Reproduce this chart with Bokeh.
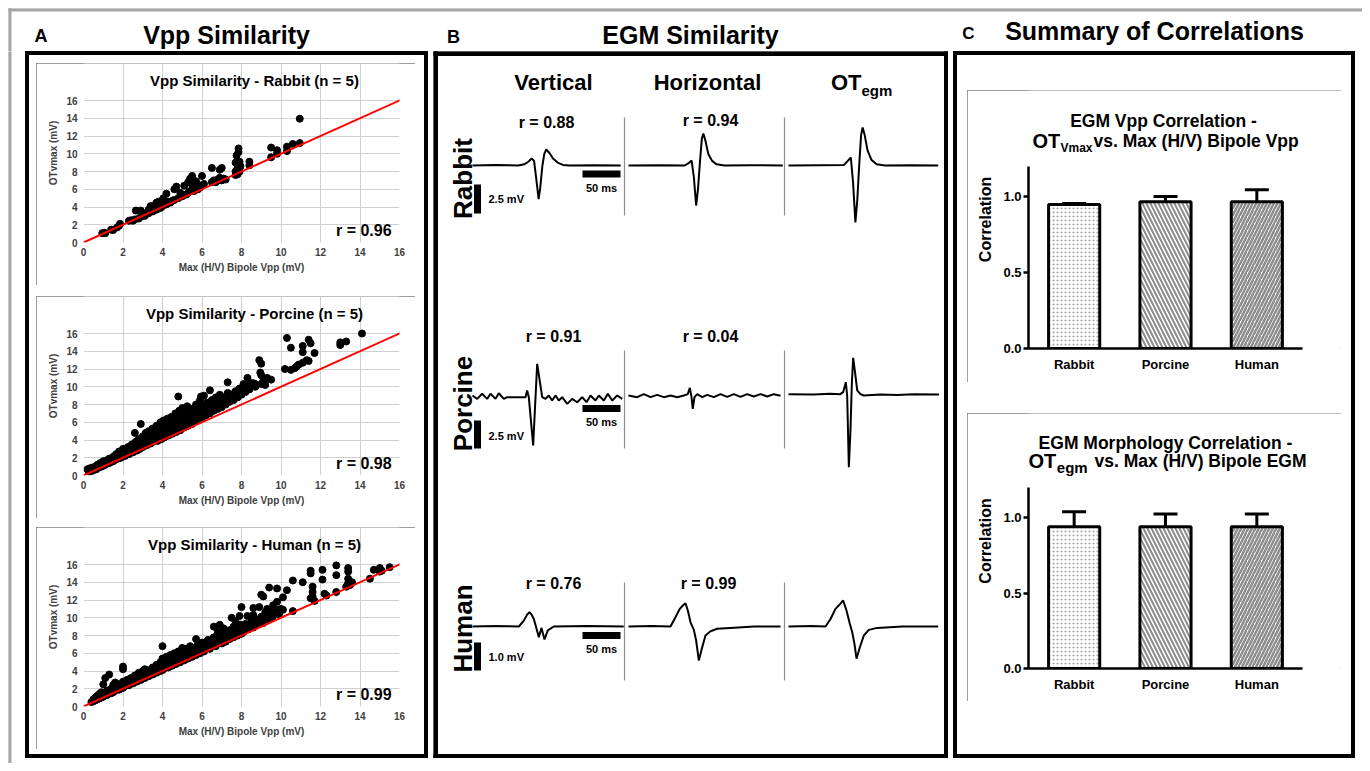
import numpy as np
from bokeh.plotting import figure
from bokeh.layouts import row, column
from bokeh.models import Range1d, FixedTicker, Whisker, TeeHead, ColumnDataSource, Slope, Spacer, NumeralTickFormatter
from bokeh.core.properties import value
from bokeh.embed import file_html
from bokeh.resources import INLINE

# ---------------------------------------------------------------- data
SPECIES = ["Rabbit", "Porcine", "Human"]
SCATTER_R = [0.96, 0.98, 0.99]
AXIS_TICKS = [0, 2, 4, 6, 8, 10, 12, 14, 16]

RABBIT_POINTS = [
    (0.95, 1.05), (1.05, 1.1), (1.1, 1.05), (1.4, 1.45), (1.5, 1.4), (1.7, 1.7), (1.8, 1.9), (1.85, 2.1),
    (2.3, 2.45), (2.4, 2.5), (2.5, 2.45), (2.6, 2.6), (2.65, 3.6), (2.8, 2.7), (2.9, 3.6), (2.9, 2.9),
    (3.0, 3.1), (3.1, 3.0), (3.15, 3.3), (3.3, 3.3), (3.3, 3.7), (3.4, 4.1), (3.5, 3.5), (3.5, 3.9),
    (3.6, 4.2), (3.7, 3.7), (3.7, 4.5), (3.8, 4.0), (3.8, 4.6), (3.9, 3.9), (3.9, 4.3), (4.0, 4.1),
    (4.0, 4.8), (4.05, 5.0), (4.1, 4.4), (4.2, 4.3), (4.2, 5.5), (4.3, 4.6), (4.4, 4.5), (4.5, 4.7),
    (4.6, 6.0), (4.6, 4.8), (4.7, 6.3), (4.8, 5.0), (4.9, 5.6), (5.0, 5.2), (5.1, 6.4), (5.2, 5.4),
    (5.3, 6.8), (5.3, 5.6), (5.4, 7.2), (5.4, 5.8), (5.5, 6.5), (5.5, 7.5), (5.6, 5.8), (5.6, 6.2),
    (5.7, 6.9), (5.8, 6.0), (5.8, 6.5), (5.9, 6.2), (6.0, 7.5), (6.1, 6.6), (6.5, 8.4), (6.5, 6.8),
    (6.6, 7.0), (6.7, 6.8), (6.8, 7.1), (6.9, 8.2), (6.9, 7.3), (7.0, 8.4), (7.0, 7.0), (7.1, 7.2),
    (7.2, 7.1), (7.7, 7.6), (7.7, 8.0), (7.7, 9.0), (7.75, 9.8), (7.8, 8.4), (7.8, 7.7), (7.85, 10.6),
    (7.85, 10.2), (7.9, 9.1), (7.9, 8.0), (7.95, 8.6), (8.4, 8.7), (8.4, 9.1), (9.5, 9.6), (9.5, 10.7),
    (9.8, 10.0), (9.8, 10.4), (10.3, 10.3), (10.3, 10.8), (10.6, 11.1), (10.95, 11.2), (10.95, 13.95),
]

PORCINE_POINTS = [
    (0.2, 0.7), (0.25, 0.5), (0.3, 0.8), (0.35, 0.6), (0.4, 0.5), (0.45, 0.9), (0.5, 0.6), (0.55, 0.8),
    (0.6, 1.0), (0.65, 0.7), (0.7, 1.2), (0.75, 0.9), (0.8, 1.1), (0.85, 1.4), (0.9, 1.0), (0.95, 1.3),
    (1.0, 1.6), (1.0, 1.1), (1.1, 1.3), (1.15, 1.7), (1.2, 1.4), (1.3, 1.9), (1.35, 1.5), (1.4, 1.7),
    (1.5, 2.1), (1.5, 1.6), (1.6, 1.8), (1.65, 2.4), (1.7, 2.0), (1.8, 2.2), (1.8, 2.7), (1.9, 2.0),
    (2.0, 2.4), (2.0, 3.0), (2.1, 2.2), (2.2, 2.6), (2.25, 3.2), (2.3, 2.4), (2.4, 2.8), (2.45, 3.5),
    (2.5, 2.6), (2.55, 3.1), (2.6, 4.8), (2.65, 3.8), (2.7, 2.8), (2.75, 3.3), (2.8, 4.1), (2.85, 3.0),
    (2.9, 5.8), (2.9, 3.6), (3.0, 3.2), (3.0, 4.4), (3.1, 3.8), (3.15, 4.8), (3.2, 3.4), (3.25, 4.2),
    (3.3, 5.0), (3.4, 3.6), (3.4, 4.5), (3.5, 5.3), (3.5, 3.8), (3.6, 4.2), (3.6, 4.9), (3.7, 5.6),
    (3.75, 3.9), (3.8, 4.5), (3.85, 5.2), (3.9, 6.0), (3.95, 4.1), (4.0, 4.8), (4.0, 5.5), (4.05, 6.2),
    (4.1, 4.3), (4.15, 5.1), (4.2, 5.8), (4.25, 6.4), (4.3, 4.5), (4.35, 5.4), (4.4, 6.1), (4.45, 6.6),
    (4.5, 4.7), (4.55, 5.6), (4.6, 6.3), (4.65, 7.0), (4.7, 4.9), (4.75, 5.9), (4.8, 6.6), (4.8, 8.9),
    (4.85, 7.3), (4.9, 5.1), (4.95, 6.2), (5.0, 6.9), (5.0, 7.6), (5.1, 5.4), (5.15, 6.5), (5.2, 7.2),
    (5.25, 7.8), (5.3, 5.6), (5.35, 6.8), (5.4, 7.4), (5.5, 5.8), (5.5, 7.0), (5.6, 7.6), (5.65, 6.1),
    (5.7, 8.0), (5.8, 6.4), (5.8, 7.4), (5.9, 8.5), (5.95, 8.9), (6.0, 6.5), (6.0, 7.8), (6.1, 9.0),
    (6.2, 6.8), (6.25, 8.2), (6.4, 9.6), (6.4, 7.0), (6.5, 8.5), (6.6, 7.3), (6.7, 8.8), (6.8, 7.5),
    (6.9, 9.1), (7.0, 7.7), (7.1, 8.8), (7.2, 8.0), (7.3, 10.5), (7.3, 9.3), (7.4, 8.3), (7.5, 9.0),
    (7.6, 8.5), (7.7, 9.5), (7.8, 8.8), (7.9, 9.8), (8.0, 9.1), (8.1, 10.3), (8.2, 9.4), (8.3, 11.0),
    (8.4, 9.7), (8.5, 10.0), (8.6, 10.4), (8.7, 10.0), (8.9, 13.0), (9.0, 12.6), (8.95, 11.6),
    (9.0, 11.3), (9.0, 10.3), (9.1, 10.6), (9.2, 10.2), (9.3, 11.0), (9.5, 10.8), (10.2, 12.0),
    (10.3, 15.5), (10.5, 14.4), (10.5, 11.9), (10.7, 12.1), (10.8, 12.3), (10.9, 12.5), (11.1, 12.7),
    (11.1, 14.6), (11.1, 13.9), (11.3, 13.0), (11.4, 15.3), (11.5, 14.9), (11.4, 12.9), (11.7, 13.8),
    (13.0, 15.0), (13.0, 14.7), (13.3, 15.1), (14.1, 16.0),
    (0.3, 0.45), (0.4, 0.7), (0.5, 0.75), (0.6, 0.85), (0.7, 0.95), (0.8, 1.3), (0.9, 1.2), (1.05, 1.45),
    (1.1, 1.2), (1.25, 1.6), (1.3, 1.4), (1.45, 1.8), (1.55, 1.7), (1.6, 2.1), (1.75, 1.9), (1.85, 2.4),
    (1.95, 2.2), (2.05, 2.7), (2.15, 2.4), (2.2, 2.9), (2.35, 2.7), (2.4, 3.1), (2.55, 2.8), (2.6, 3.4),
    (2.7, 3.1), (2.8, 3.5), (2.95, 3.3), (3.05, 3.9), (3.1, 3.4), (3.2, 4.1), (3.3, 3.6), (3.35, 4.4),
    (3.45, 4.0), (3.55, 4.6), (3.65, 4.4), (3.7, 5.0), (3.8, 4.3), (3.9, 4.7), (4.0, 5.2), (4.1, 4.9),
    (4.2, 5.4), (4.3, 5.1), (4.4, 5.6), (4.5, 5.3), (4.6, 5.8), (4.7, 5.5), (4.75, 6.4), (4.85, 6.0),
    (4.9, 5.7), (5.0, 6.3), (5.05, 5.5), (5.1, 6.0), (5.2, 6.3), (5.3, 6.2), (5.35, 7.0), (5.45, 6.6),
    (5.5, 6.2), (5.6, 6.8), (5.7, 6.4), (5.75, 7.2), (5.85, 6.8), (5.9, 7.6), (6.0, 7.1), (6.05, 6.7),
    (6.15, 7.5), (6.3, 7.2), (6.35, 7.8), (6.5, 7.4), (6.6, 8.1), (6.7, 7.7), (6.8, 8.3), (6.95, 8.0),
    (7.05, 8.5), (7.2, 8.4), (7.35, 8.7), (7.5, 8.6), (7.6, 9.2), (7.75, 9.1), (7.85, 9.4), (8.0, 9.5),
    (8.2, 9.8), (8.35, 10.2), (8.5, 10.4), (8.7, 10.3),
]

HUMAN_POINTS = [
    (0.4, 0.5), (0.5, 0.6), (0.5, 0.8), (0.6, 0.7), (0.6, 1.0), (0.7, 0.8), (0.7, 1.2), (0.8, 0.9),
    (0.8, 1.4), (0.9, 1.0), (0.9, 1.6), (1.0, 1.1), (1.0, 1.5), (1.0, 2.5), (1.1, 3.2), (1.1, 1.3),
    (1.2, 1.8), (1.2, 1.3), (1.3, 3.6), (1.3, 1.5), (1.4, 2.0), (1.4, 1.5), (1.5, 2.4), (1.5, 1.6),
    (1.6, 1.8), (1.6, 2.7), (1.7, 2.0), (1.8, 1.9), (1.8, 2.5), (1.9, 2.2), (2.0, 4.5), (2.0, 4.2),
    (2.0, 2.1), (2.0, 2.8), (2.1, 2.3), (2.2, 2.6), (2.2, 3.0), (2.3, 2.4), (2.4, 2.8), (2.4, 3.2),
    (2.5, 2.6), (2.6, 3.0), (2.6, 3.5), (2.7, 2.8), (2.8, 3.2), (2.8, 3.8), (2.9, 3.0), (3.0, 3.4),
    (3.0, 4.0), (3.1, 3.2), (3.1, 4.2), (3.2, 3.6), (3.3, 3.4), (3.3, 4.1), (3.4, 3.8), (3.5, 3.6),
    (3.5, 4.4), (3.6, 4.0), (3.7, 3.8), (3.7, 4.7), (3.8, 4.2), (3.9, 4.0), (3.9, 5.0), (4.0, 4.1),
    (4.0, 4.6), (4.0, 6.8), (4.0, 5.4), (4.1, 4.3), (4.2, 4.8), (4.2, 5.6), (4.3, 4.4), (4.4, 5.0),
    (4.4, 5.8), (4.5, 4.6), (4.6, 5.2), (4.6, 6.0), (4.7, 4.8), (4.8, 5.4), (4.8, 6.2), (4.9, 5.0),
    (5.0, 5.6), (5.0, 6.6), (5.1, 5.2), (5.2, 5.8), (5.2, 6.5), (5.3, 5.4), (5.4, 6.0), (5.4, 6.8),
    (5.5, 5.6), (5.6, 6.2), (5.7, 7.6), (5.7, 5.8), (5.8, 6.5), (5.8, 7.0), (5.9, 6.0), (6.0, 6.6),
    (6.0, 7.2), (6.1, 6.2), (6.2, 6.8), (6.3, 7.5), (6.4, 6.5), (6.5, 7.0), (6.6, 9.0), (6.6, 7.8),
    (6.7, 6.8), (6.8, 7.4), (6.8, 8.4), (6.9, 9.2), (7.0, 7.1), (7.0, 7.8), (7.1, 8.8), (7.2, 7.3),
    (7.2, 8.2), (7.4, 7.6), (7.4, 8.6), (7.5, 10.0), (7.6, 7.8), (7.6, 9.0), (7.7, 9.6), (7.8, 8.0),
    (7.8, 8.6), (7.9, 10.2), (8.0, 8.2), (8.0, 9.0), (8.0, 11.2), (8.2, 9.3), (8.3, 10.2), (8.4, 9.0),
    (8.5, 9.6), (8.6, 11.1), (8.6, 10.3), (8.7, 9.2), (8.8, 9.7), (8.9, 11.2), (9.0, 12.6), (9.0, 10.1),
    (9.1, 9.4), (9.1, 12.4), (9.2, 10.6), (9.3, 11.0), (9.4, 13.4), (9.4, 9.8), (9.5, 10.8), (9.6, 11.4),
    (9.6, 10.2), (9.8, 11.8), (9.8, 13.3), (9.9, 10.4), (10.0, 11.0), (10.1, 12.3), (10.1, 10.9),
    (10.3, 13.1), (10.6, 10.75), (10.6, 14.2), (11.1, 14.0), (11.5, 15.0), (11.5, 15.3), (11.5, 12.2),
    (11.6, 12.4), (11.6, 12.9), (11.6, 13.5), (11.7, 11.9), (12.1, 15.4), (12.1, 14.3), (12.2, 12.7),
    (12.3, 12.5), (12.8, 15.9), (12.8, 14.8), (12.8, 12.9), (13.3, 13.5), (13.4, 15.6), (13.4, 15.2),
    (13.4, 14.4), (13.4, 13.9), (13.5, 13.7), (13.6, 14.0), (14.5, 14.4), (14.7, 15.4), (15.0, 15.2),
    (15.0, 15.6), (15.1, 15.3), (15.5, 15.7),
    (1.05, 1.25), (1.15, 1.6), (1.25, 1.45), (1.35, 1.75), (1.45, 1.65), (1.55, 2.0), (1.65, 1.9),
    (1.75, 2.3), (1.85, 2.05), (1.95, 2.5), (2.05, 2.35), (2.15, 2.8), (2.25, 2.5), (2.35, 3.0),
    (2.45, 2.65), (2.55, 3.2), (2.65, 2.85), (2.75, 3.4), (2.85, 3.05), (2.95, 3.6), (3.05, 3.3),
    (3.15, 3.8), (3.25, 3.5), (3.35, 4.0), (3.45, 3.7), (3.55, 4.2), (3.65, 3.9), (3.75, 4.4),
    (3.85, 4.1), (3.95, 4.6), (4.05, 4.35), (4.15, 5.0), (4.25, 4.55), (4.35, 5.2), (4.45, 4.75),
    (4.55, 5.4), (4.65, 4.95), (4.75, 5.6), (4.85, 5.2), (4.95, 5.9), (5.05, 5.4), (5.15, 6.0),
    (5.25, 5.6), (5.35, 6.3), (5.45, 5.8), (5.55, 6.5), (5.65, 6.0), (5.75, 6.8), (5.85, 6.2),
    (5.95, 7.0), (6.05, 6.4), (6.15, 7.2), (6.25, 6.6), (6.35, 7.4), (6.45, 6.8), (6.55, 7.6),
    (6.65, 7.0), (6.75, 7.8), (6.85, 7.2), (6.95, 8.0), (7.05, 7.4), (7.15, 8.2), (7.25, 7.6),
    (7.35, 8.4), (7.45, 7.8), (7.55, 8.6), (7.65, 8.0), (7.75, 8.8), (7.85, 8.2), (7.95, 9.2),
    (8.1, 8.4), (8.2, 8.9), (8.35, 8.7), (8.45, 9.3), (8.6, 8.9), (8.75, 9.8), (8.9, 9.3), (9.05, 9.9),
    (9.2, 9.6), (9.35, 10.3), (9.5, 10.0), (9.7, 10.6), (9.9, 10.9),
]

# EGM traces: (time ms, voltage mV relative to baseline)
RABBIT_VERT = [(0, 0), (30, 0.05), (60, 0), (68, 0.1), (73, 0.3), (78, 0.6), (81, 0.4), (84, -1.2), (87, -2.9),
               (89, -2.0), (92, 0), (94.5, 1.0), (97, 1.38), (101, 1.1), (106, 0.6), (112, 0.25), (119, 0.05),
               (128, 0), (160, 0.03), (195, 0)]
RABBIT_HORIZ = [(0, 0), (40, 0.03), (74, 0), (79, 0.2), (83, 0.43), (86, -1.0), (89, -3.45), (91.5, -2.0),
                (94, 0.3), (96.5, 2.3), (98.5, 2.76), (101, 2.2), (105, 1.0), (110, 0.4), (116, 0.1), (126, 0),
                (160, 0.03), (203, 0)]
RABBIT_OT = [(0, 0), (40, 0.03), (73, 0.05), (78, 0.4), (82, 0.69), (85, -1.5), (88, -4.9), (90.5, -3.0),
             (93, 0), (95.5, 2.6), (97.5, 3.28), (100, 2.7), (104, 1.3), (109, 0.5), (116, 0.1), (127, 0),
             (160, 0.03), (197, 0)]
PORCINE_VERT = [(0, 0), (6.1, -0.3), (12.7, 0.15), (19.3, -0.3), (23.7, 0.15), (30.3, -0.3), (34.6, 0.2),
                (41.2, -0.3), (45.6, -0.15), (69.7, -0.15), (71.9, 0.45), (74.1, -0.15), (79.8, -4.46),
                (85.1, 2.83), (91.7, -0.15), (96.1, -0.3), (100.4, 0), (104.8, -0.45), (109.2, 0),
                (113.6, -0.45), (118, -0.15), (124.6, -0.75), (131.1, -0.3), (137.7, -0.6), (144.3, -0.15),
                (150, -0.6), (155.3, 0), (161.8, -0.45), (166.2, 0), (172.8, -0.45), (178.1, 0.15),
                (183.8, -0.45), (190.4, 0), (197, -0.3)]
PORCINE_HORIZ = [(0, 0), (11.4, -0.15), (20.2, 0.12), (28.9, -0.15), (37.7, 0.06), (46.5, -0.15), (55.3, 0),
                 (64, -0.15), (72.8, 0), (78, 0.12), (80.7, 0.68), (82.9, -0.15), (84.6, -1.19), (86.8, -0.15),
                 (90.4, 0.12), (97, -0.15), (103.5, 0.06), (112.3, -0.15), (121, 0.12), (129.8, -0.12),
                 (138.6, 0.12), (147.4, -0.12), (156.1, 0.12), (164.9, -0.09), (173.7, 0.12), (182.5, -0.09),
                 (191.2, 0.12), (200, -0.03)]
PORCINE_OT = [(0, 0.12), (33, 0.08), (55, 0.15), (68, 0.12), (71.9, 0.3), (75.4, 1.19), (77.2, 0.0),
              (79.4, -6.4), (81.6, -3.0), (83.3, 1.0), (85.1, 3.36), (87.7, 2.0), (90.4, 0.45), (94.7, 0.12),
              (99, 0.0), (121, 0.1), (143, 0.05), (165, 0.12), (198, 0.1)]
HUMAN_VERT = [(0, 0), (30, 0.02), (61, 0), (67.5, 0.21), (72, 0.43), (75, 0.51), (77.6, 0.43), (80.7, 0.27),
              (84, -0.05), (87.3, -0.38), (90.8, -0.05), (94.7, -0.46), (99.1, -0.14), (107, 0), (150, 0.02),
              (199, 0)]
HUMAN_HORIZ = [(0, 0), (30, 0.02), (55.3, 0), (61.8, 0.33), (67.5, 0.63), (71.5, 0.75), (75, 0.83),
               (78.1, 0.57), (81.6, 0.15), (86, -0.12), (89, -0.5), (92.5, -1.21), (97, -0.74),
               (101.3, -0.32), (107.9, -0.17), (116.7, -0.08), (134, -0.05), (165, 0.0), (200, 0)]
HUMAN_OT = [(0, 0), (30, 0.02), (48.7, 0), (55.3, 0.27), (61.8, 0.63), (67.5, 0.79), (71.9, 0.93),
            (76.3, 0.57), (80.7, 0.1), (83.8, -0.2), (86.8, -0.62), (89.5, -1.15), (93.9, -0.74),
            (99.1, -0.32), (105.7, -0.12), (116.7, -0.05), (150, 0), (197, 0)]

R_VERTICAL = [0.88, 0.91, 0.76]
R_HORIZONTAL = [0.94, 0.04, 0.99]
SCALE_MV = [2.5, 2.5, 1.0]
SCALE_MS = 50

VPP_MEAN = [0.95, 0.967, 0.967]
VPP_ERR = [0.006, 0.035, 0.08]
MORPH_MEAN = [0.94, 0.94, 0.94]
MORPH_ERR = [0.10, 0.085, 0.085]

# ---------------------------------------------------------------- style helpers
FONT = "Liberation Sans"


def txt(p, x, y, s, size, align="center", baseline="middle", angle=0, color="black", **kw):
    p.text(x=[x], y=[y], text=[s], text_font=value(FONT), text_font_size=size, text_font_style="bold",
           text_align=align, text_baseline=baseline, angle=angle, text_color=color, **kw)


def blank(width, height, xr, yr):
    p = figure(width=width, height=height, x_range=Range1d(*xr), y_range=Range1d(*yr),
               x_axis_type=None, y_axis_type=None, output_backend="svg", toolbar_location=None,
               min_border=0)
    p.outline_line_color = None
    return p


def box_style(w, color):
    return {"outline": "%dpx solid %s" % (w, color), "outline-offset": "-%dpx" % w}


# ---------------------------------------------------------------- header (page y 8..51)
hdr = blank(1354, 43, (8, 1362), (51, 8))
hdr.quad(left=[8], right=[1362], top=[8], bottom=[10.5], color="#a6a6a6")
hdr.quad(left=[8], right=[10.5], top=[8], bottom=[51], color="#a6a6a6")
txt(hdr, 40.5, 35.5, "A", "18px")
txt(hdr, 226, 34, "Vpp Similarity", "25px")
txt(hdr, 453, 36.5, "B", "18px")
txt(hdr, 690, 34, "EGM Similarity", "25px")
txt(hdr, 968, 32.5, "C", "17px")
txt(hdr, 1154, 30.5, "Summary of Correlations", "25px")

strip = blank(17, 712, (8, 25), (763, 51))
strip.quad(left=[8], right=[10.5], top=[51], bottom=[763], color="#a6a6a6")

# ---------------------------------------------------------------- panel A
SC_W, SC_H = 379, 222
SC_LEFT, SC_RIGHT, SC_BOTTOM = 47, 16, 43
SC_PX_PER_UNIT_Y = 142 / 16.0          # plot area height 142 px for 0..16


def scatter_panel(species, pts, r):
    xs = [a for a, b in pts]
    ys = [b for a, b in pts]
    lo, hi = AXIS_TICKS[0], AXIS_TICKS[-1]
    frame_h = SC_H - SC_BOTTOM
    y_top = frame_h / SC_PX_PER_UNIT_Y   # frame extends to the box top; the title lives in it
    p = figure(width=SC_W, height=SC_H, x_range=Range1d(lo, hi), y_range=Range1d(lo, y_top),
               output_backend="svg", toolbar_location=None,
               min_border_left=SC_LEFT, min_border_right=SC_RIGHT, min_border_top=0,
               min_border_bottom=SC_BOTTOM, styles=box_style(1, "#7f7f7f"))
    for ax in (p.xaxis[0], p.yaxis[0]):
        ax.ticker = FixedTicker(ticks=AXIS_TICKS)
        ax.bounds = (lo, hi)
        ax.axis_line_color = None
        ax.major_tick_line_color = None
        ax.minor_tick_line_color = None
        ax.major_tick_in = 0
        ax.major_tick_out = 0
        ax.major_label_text_font = FONT
        ax.major_label_text_font_size = "10px"
        ax.major_label_text_font_style = "bold"
        ax.major_label_text_color = "#404040"
        ax.axis_label_text_font = FONT
        ax.axis_label_text_font_size = "10px"
        ax.axis_label_text_font_style = "bold"
        ax.axis_label_text_color = "#404040"
    p.xaxis.axis_label = "Max (H/V) Bipole Vpp (mV)"
    p.yaxis.axis_label = "OTvmax (mV)"
    p.xaxis.major_label_standoff = 5
    p.xaxis.axis_label_standoff = 3
    p.yaxis.major_label_standoff = 6
    p.yaxis.axis_label_standoff = 4
    for g in p.grid:
        g.bounds = (lo, hi)
        g.grid_line_color = "#d0d0d0"
    p.outline_line_color = None
    p.scatter(xs, ys, size=7, color="black")
    p.add_layout(Slope(gradient=1, y_intercept=0, line_color="red", line_width=2))
    txt(p, 15.6, 1.4, "r = %.2f" % r, "16px", align="right")
    # title: centred at page x 254, 20 px above the plot area
    txt(p, (254 - 83) / 19.75, hi + 20 / SC_PX_PER_UNIT_Y, "Vpp Similarity - %s (n = 5)" % species, "15px")
    return p


scat = [scatter_panel(s, pts, r) for s, pts, r in
        zip(SPECIES, [RABBIT_POINTS, PORCINE_POINTS, HUMAN_POINTS], SCATTER_R)]


def padded(fig, left, right, h):
    return row(Spacer(width=left, height=h), fig, Spacer(width=right, height=h))


def framed(inner, w, h):
    # 4 px black frame around a w x h content block (frame drawn by CSS outline, space reserved here)
    return column(Spacer(width=w + 8, height=4),
                  row(Spacer(width=4, height=h), inner, Spacer(width=4, height=h)),
                  Spacer(width=w + 8, height=4),
                  styles=box_style(4, "black"))


contentA = column(Spacer(width=395, height=8), padded(scat[0], 7, 9, 222),
                  Spacer(width=395, height=11), padded(scat[1], 7, 9, 222),
                  Spacer(width=395, height=9), padded(scat[2], 7, 9, 222),
                  Spacer(width=395, height=5))
panelA = framed(contentA, 395, 699)

# ---------------------------------------------------------------- panel B (page x 433..948, y 51..758)
B_L, B_R, B_T, B_B = 433, 948, 51, 758
MS_ZERO_PX, PX_PER_MS = 472, 0.76
COL_START_PX = [472, 628, 788]
ROW_BASE_PX = [165, 395, 626]
ROW_PX_PER_MV = [11.6, 11.2, 28.0]


def px2ms(px):
    return (px - MS_ZERO_PX) / PX_PER_MS


pb = blank(B_R - B_L, B_B - B_T, (B_L, B_R), (B_B, B_T))
pb.extra_x_ranges = {"ms": Range1d(px2ms(B_L), px2ms(B_R))}
pb.extra_y_ranges = {s: Range1d((b - B_B) / k, (b - B_T) / k)
                     for s, b, k in zip(SPECIES, ROW_BASE_PX, ROW_PX_PER_MV)}
# frame
pb.quad(left=[B_L, B_R - 4, B_L, B_L], right=[B_L + 4, B_R, B_R, B_R],
        top=[B_T, B_T, B_T, B_B - 4], bottom=[B_B, B_B, B_T + 4, B_B], color="black")

txt(pb, 553, 82, "Vertical", "22px")
txt(pb, 707, 82, "Horizontal", "22px")
txt(pb, 861, 82, "OT", "22px", align="right")
txt(pb, 861, 90, "egm", "15px", align="left")

TRACES = [[RABBIT_VERT, RABBIT_HORIZ, RABBIT_OT],
          [PORCINE_VERT, PORCINE_HORIZ, PORCINE_OT],
          [HUMAN_VERT, HUMAN_HORIZ, HUMAN_OT]]
ROW_LABEL_Y = [178, 403, 628]
R_CENTER_Y = [[121.5, 119.5], [336, 336], [583, 583]]
R_X = [[546, 710], [553, 710], [553, 708]]
VBAR_TOP_PX = [184, 420, 642]
HBAR_PX = [173.5, 408, 635]
MV_LABEL_Y = [198, 435, 656]
MS_LABEL_Y = [187, 421, 648]
SEP_SPAN = [(117, 215), (350, 448), (582, 680)]

for i, sp in enumerate(SPECIES):
    base, k = ROW_BASE_PX[i], ROW_PX_PER_MV[i]
    for j, tr in enumerate(TRACES[i]):
        off = px2ms(COL_START_PX[j])
        pb.line([t + off for t, v in tr], [v for t, v in tr], x_range_name="ms", y_range_name=sp,
                line_color="black", line_width=2)
    for sx in (624, 784):
        pb.segment(x0=[sx], y0=[SEP_SPAN[i][0]], x1=[sx], y1=[SEP_SPAN[i][1]], line_color="#8c8c8c",
                   line_width=1.2)
    vx = px2ms(477)
    vtop = (base - VBAR_TOP_PX[i]) / k
    pb.segment(x0=[vx], y0=[vtop], x1=[vx], y1=[vtop - SCALE_MV[i]], x_range_name="ms", y_range_name=sp,
               line_color="black", line_width=7, line_cap="butt")
    hx = px2ms(582)
    hy = (base - HBAR_PX[i]) / k
    pb.segment(x0=[hx], y0=[hy], x1=[hx + SCALE_MS], y1=[hy], x_range_name="ms", y_range_name=sp,
               line_color="black", line_width=7, line_cap="butt")
    txt(pb, 488, MV_LABEL_Y[i], "%.1f mV" % SCALE_MV[i], "11px", align="left")
    txt(pb, 601, MS_LABEL_Y[i], "%d ms" % SCALE_MS, "11px")
    txt(pb, 462, ROW_LABEL_Y[i], sp, "26px", angle=np.pi / 2)
    txt(pb, R_X[i][0], R_CENTER_Y[i][0], "r = %.2f" % R_VERTICAL[i], "16px")
    txt(pb, R_X[i][1], R_CENTER_Y[i][1], "r = %.2f" % R_HORIZONTAL[i], "16px")

# ---------------------------------------------------------------- panel C
Y_AXIS_MAX = 1.2
BAR_X = [i + 0.5 for i in range(len(SPECIES))]
PX_PER_CAT = 91.33
HATCH = [dict(hatch_pattern="dot", hatch_color="#a0a0a0", hatch_scale=4, hatch_weight=1),
         dict(hatch_pattern="\\", hatch_color="#8c8c8c", hatch_scale=8, hatch_weight=2),
         dict(hatch_pattern="/", hatch_color="#8c8c8c", hatch_scale=7, hatch_weight=2.5)]


def bar_panel(height, bottom, px_per_unit, means, errs, line1, sub, sub_size, rest, pos):
    frame_h = height - bottom
    p = figure(width=374, height=height, x_range=Range1d(0, 313 / PX_PER_CAT),
               y_range=Range1d(0, frame_h / px_per_unit),
               output_backend="svg", toolbar_location=None,
               min_border_left=61, min_border_right=0, min_border_top=0, min_border_bottom=bottom,
               styles=box_style(1, "#7f7f7f"))
    p.grid.visible = False
    p.outline_line_color = None
    for i in range(len(SPECIES)):
        p.vbar(x=[BAR_X[i]], top=[means[i]], width=0.56, fill_color="white", line_color="black",
               line_width=3, **HATCH[i])
    src = ColumnDataSource(dict(base=BAR_X, upper=[m + e for m, e in zip(means, errs)],
                                lower=[m - e for m, e in zip(means, errs)]))
    p.add_layout(Whisker(source=src, base="base", upper="upper", lower="lower", line_width=3,
                         line_color="black",
                         upper_head=TeeHead(size=24, line_width=3, line_color="black"),
                         lower_head=TeeHead(size=24, line_width=3, line_color="black")))
    ya = p.yaxis[0]
    ya.ticker = FixedTicker(ticks=[0, 0.5, 1.0])
    ya.formatter = NumeralTickFormatter(format="0.0")
    ya.bounds = (0, Y_AXIS_MAX)
    ya.axis_label = "Correlation"
    ya.axis_label_standoff = 6
    ya.major_label_standoff = 2
    xa = p.xaxis[0]
    xa.ticker = FixedTicker(ticks=BAR_X)
    xa.major_label_overrides = {x: s for x, s in zip(BAR_X, SPECIES)}
    xa.bounds = (0, len(SPECIES))
    xa.major_tick_line_color = None
    xa.major_label_standoff = 3
    for ax in (xa, ya):
        ax.axis_line_width = 2.5
        ax.axis_line_color = "black"
        ax.major_tick_line_width = 2.5
        ax.major_tick_out = 5
        ax.major_tick_in = 0
        ax.minor_tick_line_color = None
        ax.major_label_text_font = FONT
        ax.major_label_text_font_size = "13px"
        ax.major_label_text_font_style = "bold"
        ax.major_label_text_color = "black"
        ax.axis_label_text_font = FONT
        ax.axis_label_text_font_size = "16px"
        ax.axis_label_text_font_style = "bold"
        ax.axis_label_text_color = "black"
    xc, y1, y2, ysub, xot, xsub, xrest = pos
    txt(p, xc, y1, line1, "17.5px")
    txt(p, xot, y2, "OT", "20px", align="left")
    txt(p, xsub, ysub, sub, sub_size, align="left")
    txt(p, xrest, y2, rest, "17.5px", align="left")
    return p


bar1 = bar_panel(292, 34, 151.67, VPP_MEAN, VPP_ERR, "EGM Vpp Correlation -", "Vmax", "12px",
                 "vs. Max (H/V) Bipole Vpp", (1.478, 1.497, 1.365, 1.325, 0.044, 0.350, 0.712))
bar2 = bar_panel(288, 33, 150.83, MORPH_MEAN, MORPH_ERR, "EGM Morphology Correlation -", "egm", "15px",
                 "vs. Max (H/V) Bipole  EGM", (1.5, 1.498, 1.379, 1.335, 0.0, 0.31, 0.723))

contentC = column(Spacer(width=394, height=35), padded(bar1, 10, 10, 292),
                  Spacer(width=394, height=31), padded(bar2, 10, 10, 288),
                  Spacer(width=394, height=53))
panelC = framed(contentC, 394, 699)

main = row(strip, panelA, Spacer(width=5, height=10), pb, Spacer(width=5, height=10), panelC)
page = column(Spacer(width=1354, height=8), hdr, main)
root = row(Spacer(width=8, height=10), page)

open("out.html", "w").write(file_html(root, INLINE, title="EGM similarity"))
